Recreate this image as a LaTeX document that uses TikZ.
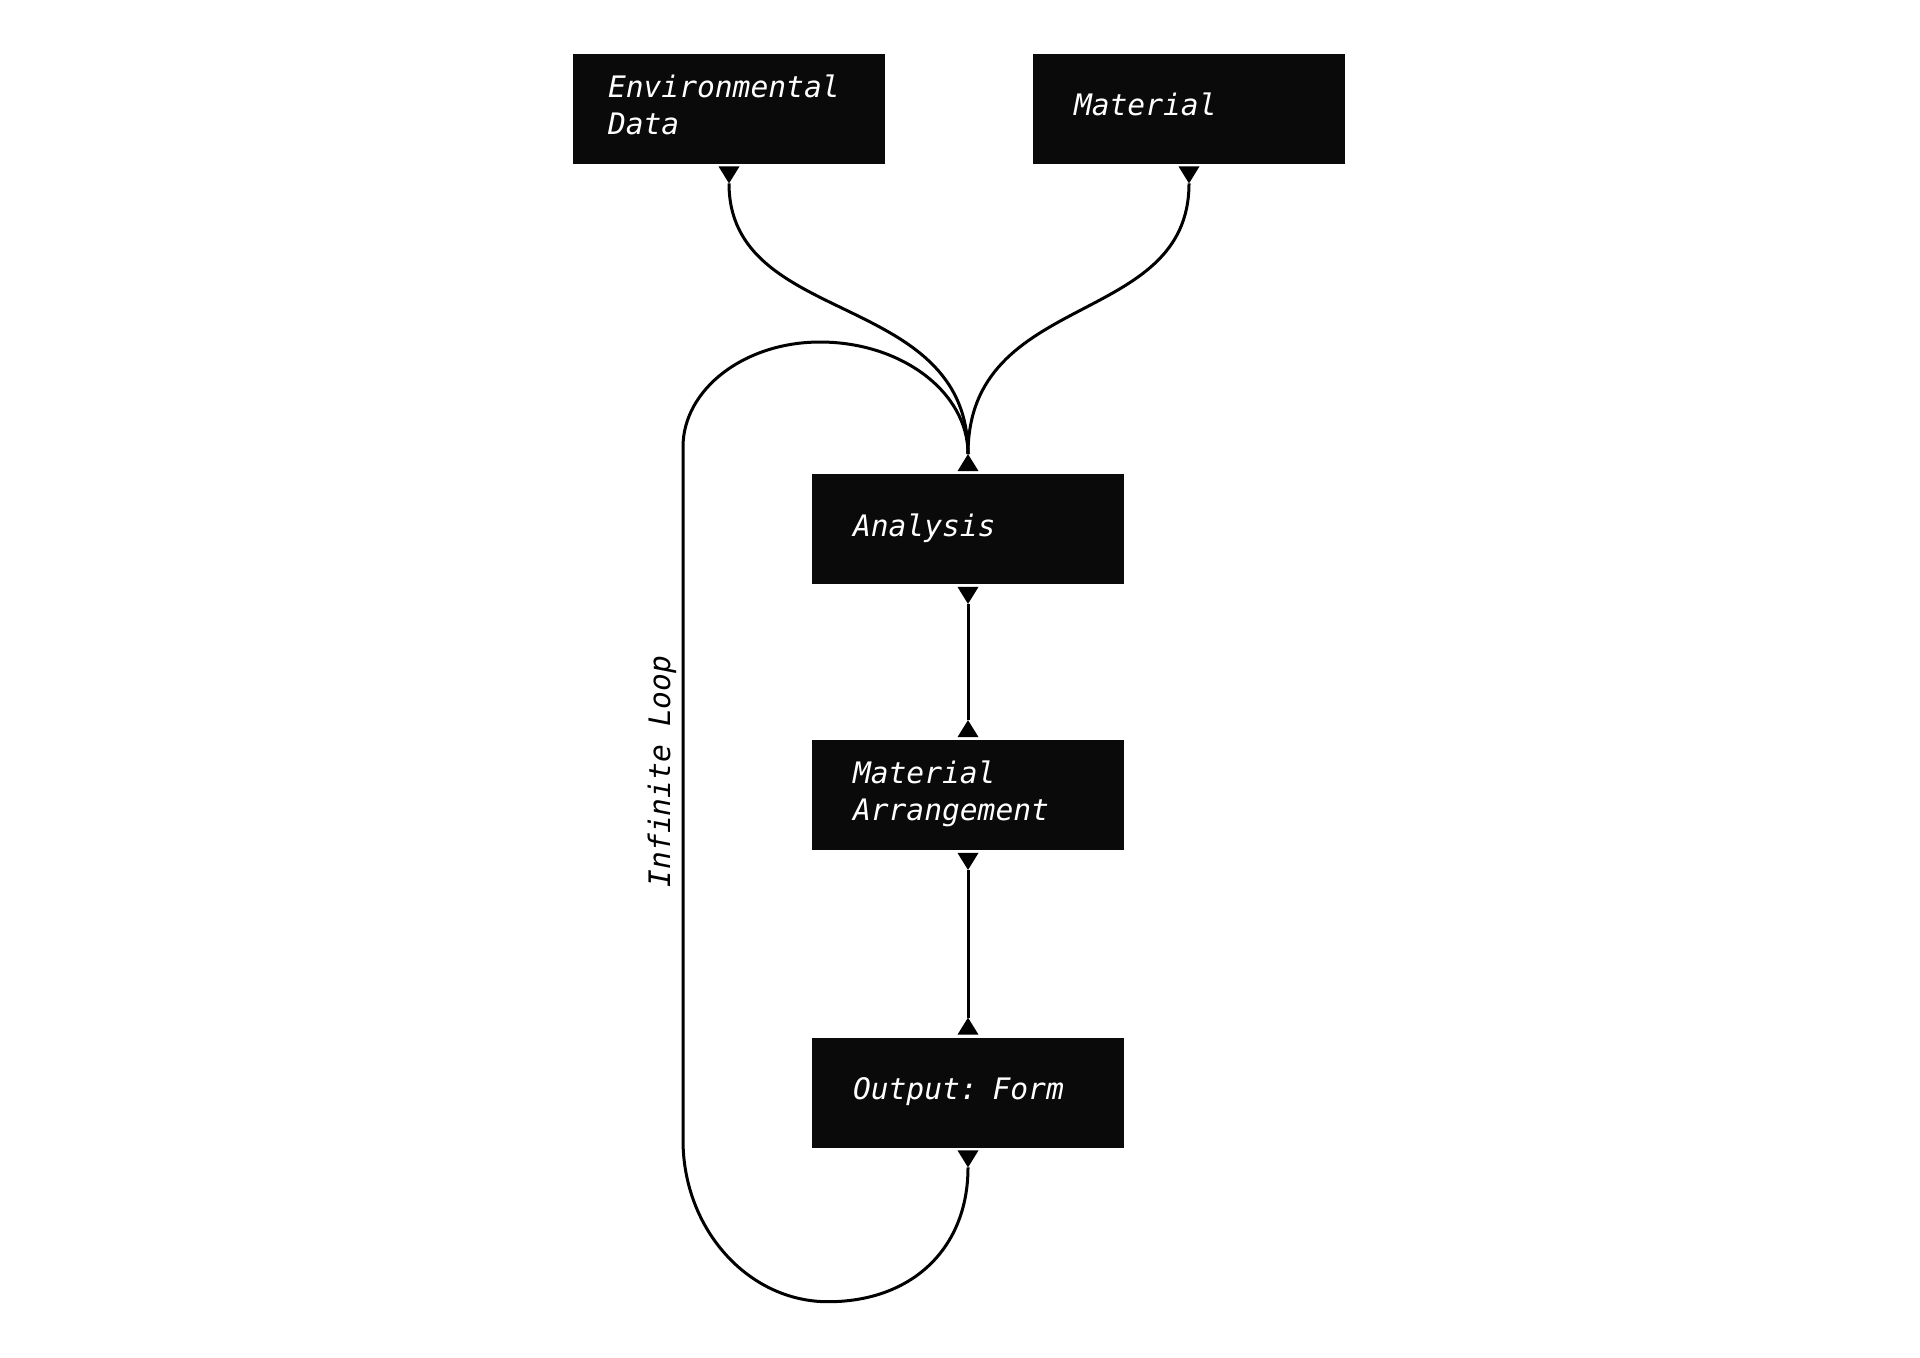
\documentclass[tikz,border=0pt]{standalone}
\usepackage{fontspec}
\newfontfamily\lblfamily{DejaVu Sans Mono}[ItalicFont={DejaVu Sans Mono Oblique}]
\newcommand\lbl{\fontsize{14.8pt}{18.5pt}\selectfont\lblfamily\itshape}
\definecolor{boxblack}{HTML}{0A0A0A}
% port triangles: #1 = node anchor, #2 = name of the coordinate at the triangle tip
\newcommand\portdown[2]{%
  \fill[black] ([yshift=-1.25pt]#1) ++(-10.5,0) -- ++(21,0) -- ++(-10.5,17) -- cycle;
  \coordinate (#2) at ([yshift=-9.75pt]#1);}
\newcommand\portup[2]{%
  \fill[black] ([yshift=1.25pt]#1) ++(-10.5,0) -- ++(21,0) -- ++(-10.5,-17) -- cycle;
  \coordinate (#2) at ([yshift=9.75pt]#1);}
\begin{document}
\begin{tikzpicture}[x=0.5pt,y=-0.5pt,
  box/.style={fill=boxblack, text=white, minimum width=156pt, minimum height=55pt,
    text width=115pt, inner xsep=20.5pt, inner ysep=0pt, align=left, font=\lbl,
    execute at begin node=\strut, execute at end node=\strut},
  conn/.style={line width=1.5pt, draw=black}]
\useasboundingbox (0,0) rectangle (1920,1357);

\node[box, inner xsep=17.5pt, text width=121pt] (env) at (729,108.5) {Environmental\\Data};
\node[box] (mat) at (1189,108.5) {Material};
\node[box] (ana) at (968,529) {Analysis};
\node[box] (arr) at (968,795) {Material\\Arrangement};
\node[box] (out) at (968,1092.5) {Output: Form};

\node[font=\lbl, rotate=90, anchor=base, inner sep=0pt] (inf) at (670,771.5) {Infinite Loop};

\portdown{env.south}{envB}
\portdown{mat.south}{matB}
\portup{ana.north}{anaT}
\portdown{ana.south}{anaB}
\portup{arr.north}{arrT}
\portdown{arr.south}{arrB}
\portup{out.north}{outT}
\portdown{out.south}{outB}

\draw[conn] (envB) .. controls +(0,145) and +(0,-165) .. (anaT);
\draw[conn] (matB) .. controls +(0,145) and +(0,-165) .. (anaT);
\draw[conn] (anaB) -- (arrT);
\draw[conn] (arrB) -- (outT);
\draw[conn] (anaT) .. controls +(0,-62) and (901.4,342) .. (820,342)
  .. controls (744.6,342) and (683,389) .. (683,447)
  -- (683,1140)
  .. controls (683,1229) and (748,1301.7) .. (828,1301.7)
  .. controls (912,1301.7) and +(0,81) .. (outB);
\end{tikzpicture}
\end{document}
